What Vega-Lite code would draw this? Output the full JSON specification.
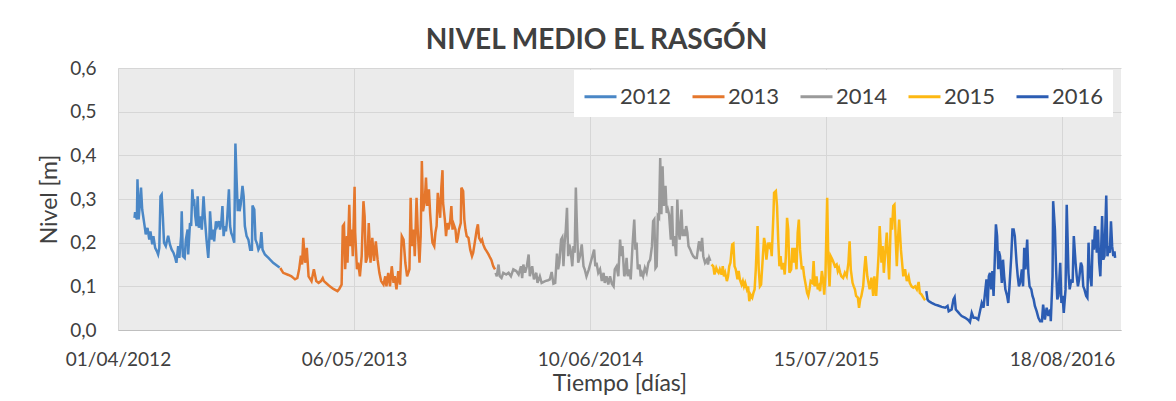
{
"$schema": "https://vega.github.io/schema/vega-lite/v6.json",
"width": 1003,
"height": 262,
"autosize": {"type": "none"},
"padding": {"left": 118, "top": 68, "right": 55, "bottom": 71},
"background": "white",
"config": {
  "font": "Lato",
  "view": {"fill": "#ebebeb", "stroke": null},
  "axis": {"labelColor": "#404040", "titleColor": "#404040", "titleFontWeight": "normal"}
},
"title": {"text": "NIVEL MEDIO EL RASGÓN", "fontSize": 28, "fontWeight": "bold", "color": "#404040", "anchor": "middle", "dx": -23, "offset": 4},
"data": {"values": [
{"d":"2012-04-29","v":0.257},{"d":"2012-04-30","v":0.270},{"d":"2012-05-03","v":0.253},{"d":"2012-05-04","v":0.345},{"d":"2012-05-06","v":0.253},{"d":"2012-05-10","v":0.326},{"d":"2012-05-12","v":0.276},{"d":"2012-05-17","v":0.230},{"d":"2012-05-18","v":0.219},{"d":"2012-05-21","v":0.234},{"d":"2012-05-24","v":0.207},{"d":"2012-05-26","v":0.226},{"d":"2012-05-29","v":0.196},{"d":"2012-05-31","v":0.215},{"d":"2012-06-03","v":0.188},{"d":"2012-06-06","v":0.180},{"d":"2012-06-08","v":0.173},{"d":"2012-06-10","v":0.188},{"d":"2012-06-12","v":0.306},{"d":"2012-06-14","v":0.310},{"d":"2012-06-16","v":0.260},{"d":"2012-06-18","v":0.200},{"d":"2012-06-21","v":0.192},{"d":"2012-06-25","v":0.216},{"d":"2012-06-28","v":0.196},{"d":"2012-07-01","v":0.184},{"d":"2012-07-04","v":0.177},{"d":"2012-07-07","v":0.165},{"d":"2012-07-09","v":0.154},{"d":"2012-07-12","v":0.192},{"d":"2012-07-14","v":0.165},{"d":"2012-07-17","v":0.215},{"d":"2012-07-18","v":0.272},{"d":"2012-07-20","v":0.169},{"d":"2012-07-23","v":0.165},{"d":"2012-07-25","v":0.207},{"d":"2012-07-28","v":0.230},{"d":"2012-07-29","v":0.173},{"d":"2012-08-01","v":0.245},{"d":"2012-08-03","v":0.238},{"d":"2012-08-05","v":0.322},{"d":"2012-08-07","v":0.284},{"d":"2012-08-08","v":0.300},{"d":"2012-08-10","v":0.260},{"d":"2012-08-12","v":0.238},{"d":"2012-08-14","v":0.306},{"d":"2012-08-16","v":0.234},{"d":"2012-08-18","v":0.260},{"d":"2012-08-21","v":0.230},{"d":"2012-08-24","v":0.306},{"d":"2012-08-26","v":0.260},{"d":"2012-08-29","v":0.207},{"d":"2012-09-01","v":0.165},{"d":"2012-09-03","v":0.215},{"d":"2012-09-04","v":0.272},{"d":"2012-09-07","v":0.207},{"d":"2012-09-10","v":0.230},{"d":"2012-09-11","v":0.203},{"d":"2012-09-14","v":0.249},{"d":"2012-09-16","v":0.238},{"d":"2012-09-19","v":0.249},{"d":"2012-09-21","v":0.230},{"d":"2012-09-23","v":0.245},{"d":"2012-09-25","v":0.284},{"d":"2012-09-27","v":0.215},{"d":"2012-09-29","v":0.238},{"d":"2012-10-01","v":0.226},{"d":"2012-10-03","v":0.253},{"d":"2012-10-06","v":0.322},{"d":"2012-10-08","v":0.238},{"d":"2012-10-10","v":0.222},{"d":"2012-10-12","v":0.215},{"d":"2012-10-15","v":0.200},{"d":"2012-10-17","v":0.427},{"d":"2012-10-19","v":0.345},{"d":"2012-10-21","v":0.272},{"d":"2012-10-23","v":0.300},{"d":"2012-10-24","v":0.272},{"d":"2012-10-26","v":0.288},{"d":"2012-10-29","v":0.330},{"d":"2012-10-31","v":0.306},{"d":"2012-11-02","v":0.238},{"d":"2012-11-05","v":0.215},{"d":"2012-11-08","v":0.207},{"d":"2012-11-11","v":0.184},{"d":"2012-11-14","v":0.184},{"d":"2012-11-15","v":0.285},{"d":"2012-11-18","v":0.276},{"d":"2012-11-20","v":0.207},{"d":"2012-11-23","v":0.196},{"d":"2012-11-25","v":0.184},{"d":"2012-11-28","v":0.192},{"d":"2012-11-30","v":0.224},{"d":"2012-12-02","v":0.184},{"d":"2012-12-06","v":0.173},{"d":"2012-12-12","v":0.165},{"d":"2012-12-20","v":0.154},{"d":"2012-12-29","v":0.145},{"d":"2012-12-31","v":0.143},
{"d":"2013-01-01","v":0.142},{"d":"2013-01-06","v":0.131},{"d":"2013-01-15","v":0.126},{"d":"2013-01-20","v":0.123},{"d":"2013-01-26","v":0.116},{"d":"2013-01-30","v":0.119},{"d":"2013-02-02","v":0.139},{"d":"2013-02-05","v":0.170},{"d":"2013-02-07","v":0.150},{"d":"2013-02-09","v":0.211},{"d":"2013-02-12","v":0.154},{"d":"2013-02-15","v":0.188},{"d":"2013-02-18","v":0.123},{"d":"2013-02-23","v":0.112},{"d":"2013-02-27","v":0.139},{"d":"2013-03-03","v":0.112},{"d":"2013-03-07","v":0.108},{"d":"2013-03-11","v":0.112},{"d":"2013-03-14","v":0.119},{"d":"2013-03-16","v":0.112},{"d":"2013-03-21","v":0.106},{"d":"2013-03-26","v":0.100},{"d":"2013-04-01","v":0.094},{"d":"2013-04-08","v":0.089},{"d":"2013-04-11","v":0.094},{"d":"2013-04-15","v":0.104},{"d":"2013-04-17","v":0.238},{"d":"2013-04-19","v":0.242},{"d":"2013-04-21","v":0.139},{"d":"2013-04-24","v":0.215},{"d":"2013-04-25","v":0.154},{"d":"2013-04-28","v":0.287},{"d":"2013-04-30","v":0.192},{"d":"2013-05-02","v":0.230},{"d":"2013-05-04","v":0.169},{"d":"2013-05-07","v":0.328},{"d":"2013-05-08","v":0.223},{"d":"2013-05-11","v":0.139},{"d":"2013-05-13","v":0.154},{"d":"2013-05-16","v":0.123},{"d":"2013-05-19","v":0.169},{"d":"2013-05-22","v":0.295},{"d":"2013-05-24","v":0.261},{"d":"2013-05-26","v":0.154},{"d":"2013-05-29","v":0.169},{"d":"2013-05-31","v":0.245},{"d":"2013-06-03","v":0.154},{"d":"2013-06-06","v":0.211},{"d":"2013-06-09","v":0.158},{"d":"2013-06-12","v":0.203},{"d":"2013-06-15","v":0.161},{"d":"2013-06-18","v":0.131},{"d":"2013-06-21","v":0.112},{"d":"2013-06-25","v":0.104},{"d":"2013-06-28","v":0.123},{"d":"2013-06-30","v":0.100},{"d":"2013-07-03","v":0.131},{"d":"2013-07-06","v":0.100},{"d":"2013-07-09","v":0.146},{"d":"2013-07-12","v":0.108},{"d":"2013-07-14","v":0.123},{"d":"2013-07-17","v":0.093},{"d":"2013-07-20","v":0.135},{"d":"2013-07-23","v":0.104},{"d":"2013-07-26","v":0.215},{"d":"2013-07-29","v":0.207},{"d":"2013-08-01","v":0.154},{"d":"2013-08-04","v":0.123},{"d":"2013-08-08","v":0.139},{"d":"2013-08-10","v":0.303},{"d":"2013-08-12","v":0.192},{"d":"2013-08-15","v":0.230},{"d":"2013-08-17","v":0.169},{"d":"2013-08-20","v":0.303},{"d":"2013-08-22","v":0.230},{"d":"2013-08-25","v":0.154},{"d":"2013-08-27","v":0.215},{"d":"2013-08-29","v":0.387},{"d":"2013-08-31","v":0.272},{"d":"2013-09-03","v":0.295},{"d":"2013-09-05","v":0.349},{"d":"2013-09-07","v":0.284},{"d":"2013-09-10","v":0.322},{"d":"2013-09-12","v":0.268},{"d":"2013-09-14","v":0.230},{"d":"2013-09-16","v":0.200},{"d":"2013-09-19","v":0.192},{"d":"2013-09-21","v":0.223},{"d":"2013-09-23","v":0.238},{"d":"2013-09-25","v":0.314},{"d":"2013-09-27","v":0.287},{"d":"2013-09-29","v":0.257},{"d":"2013-10-01","v":0.326},{"d":"2013-10-03","v":0.366},{"d":"2013-10-04","v":0.291},{"d":"2013-10-07","v":0.253},{"d":"2013-10-09","v":0.215},{"d":"2013-10-11","v":0.245},{"d":"2013-10-13","v":0.230},{"d":"2013-10-16","v":0.249},{"d":"2013-10-18","v":0.284},{"d":"2013-10-20","v":0.230},{"d":"2013-10-22","v":0.242},{"d":"2013-10-25","v":0.230},{"d":"2013-10-27","v":0.200},{"d":"2013-10-29","v":0.211},{"d":"2013-10-31","v":0.230},{"d":"2013-11-03","v":0.245},{"d":"2013-11-04","v":0.326},{"d":"2013-11-07","v":0.318},{"d":"2013-11-09","v":0.253},{"d":"2013-11-11","v":0.230},{"d":"2013-11-13","v":0.215},{"d":"2013-11-16","v":0.211},{"d":"2013-11-19","v":0.184},{"d":"2013-11-22","v":0.169},{"d":"2013-11-24","v":0.177},{"d":"2013-11-27","v":0.203},{"d":"2013-11-30","v":0.230},{"d":"2013-12-02","v":0.242},{"d":"2013-12-04","v":0.211},{"d":"2013-12-07","v":0.203},{"d":"2013-12-09","v":0.207},{"d":"2013-12-11","v":0.196},{"d":"2013-12-14","v":0.186},{"d":"2013-12-17","v":0.180},{"d":"2013-12-20","v":0.173},{"d":"2013-12-23","v":0.165},{"d":"2013-12-25","v":0.160},{"d":"2013-12-28","v":0.146},{"d":"2013-12-31","v":0.139},
{"d":"2014-01-01","v":0.131},{"d":"2014-01-03","v":0.123},{"d":"2014-01-06","v":0.150},{"d":"2014-01-08","v":0.123},{"d":"2014-01-11","v":0.119},{"d":"2014-01-14","v":0.131},{"d":"2014-01-19","v":0.127},{"d":"2014-01-23","v":0.131},{"d":"2014-01-27","v":0.123},{"d":"2014-01-31","v":0.139},{"d":"2014-02-05","v":0.135},{"d":"2014-02-09","v":0.127},{"d":"2014-02-13","v":0.146},{"d":"2014-02-15","v":0.119},{"d":"2014-02-17","v":0.150},{"d":"2014-02-20","v":0.131},{"d":"2014-02-23","v":0.146},{"d":"2014-02-26","v":0.173},{"d":"2014-02-28","v":0.123},{"d":"2014-03-04","v":0.146},{"d":"2014-03-07","v":0.116},{"d":"2014-03-11","v":0.131},{"d":"2014-03-13","v":0.108},{"d":"2014-03-17","v":0.123},{"d":"2014-03-20","v":0.108},{"d":"2014-03-26","v":0.112},{"d":"2014-03-31","v":0.114},{"d":"2014-04-03","v":0.116},{"d":"2014-04-06","v":0.133},{"d":"2014-04-09","v":0.106},{"d":"2014-04-12","v":0.108},{"d":"2014-04-15","v":0.175},{"d":"2014-04-17","v":0.139},{"d":"2014-04-19","v":0.154},{"d":"2014-04-22","v":0.207},{"d":"2014-04-24","v":0.212},{"d":"2014-04-26","v":0.146},{"d":"2014-04-28","v":0.200},{"d":"2014-04-30","v":0.230},{"d":"2014-05-02","v":0.280},{"d":"2014-05-04","v":0.169},{"d":"2014-05-06","v":0.196},{"d":"2014-05-08","v":0.184},{"d":"2014-05-11","v":0.146},{"d":"2014-05-13","v":0.192},{"d":"2014-05-15","v":0.177},{"d":"2014-05-17","v":0.326},{"d":"2014-05-19","v":0.230},{"d":"2014-05-21","v":0.154},{"d":"2014-05-24","v":0.169},{"d":"2014-05-27","v":0.196},{"d":"2014-05-30","v":0.146},{"d":"2014-06-01","v":0.139},{"d":"2014-06-04","v":0.123},{"d":"2014-06-08","v":0.139},{"d":"2014-06-11","v":0.154},{"d":"2014-06-14","v":0.169},{"d":"2014-06-17","v":0.184},{"d":"2014-06-19","v":0.146},{"d":"2014-06-21","v":0.154},{"d":"2014-06-24","v":0.131},{"d":"2014-06-27","v":0.139},{"d":"2014-06-30","v":0.112},{"d":"2014-07-03","v":0.131},{"d":"2014-07-05","v":0.108},{"d":"2014-07-08","v":0.123},{"d":"2014-07-11","v":0.104},{"d":"2014-07-14","v":0.123},{"d":"2014-07-17","v":0.106},{"d":"2014-07-20","v":0.100},{"d":"2014-07-22","v":0.139},{"d":"2014-07-25","v":0.146},{"d":"2014-07-28","v":0.123},{"d":"2014-07-31","v":0.207},{"d":"2014-08-02","v":0.169},{"d":"2014-08-04","v":0.192},{"d":"2014-08-07","v":0.123},{"d":"2014-08-09","v":0.131},{"d":"2014-08-11","v":0.165},{"d":"2014-08-13","v":0.123},{"d":"2014-08-16","v":0.139},{"d":"2014-08-18","v":0.116},{"d":"2014-08-21","v":0.192},{"d":"2014-08-24","v":0.253},{"d":"2014-08-26","v":0.184},{"d":"2014-08-28","v":0.200},{"d":"2014-08-30","v":0.139},{"d":"2014-09-02","v":0.150},{"d":"2014-09-04","v":0.123},{"d":"2014-09-06","v":0.131},{"d":"2014-09-08","v":0.123},{"d":"2014-09-11","v":0.142},{"d":"2014-09-14","v":0.131},{"d":"2014-09-17","v":0.154},{"d":"2014-09-20","v":0.161},{"d":"2014-09-23","v":0.192},{"d":"2014-09-25","v":0.249},{"d":"2014-09-27","v":0.253},{"d":"2014-09-29","v":0.142},{"d":"2014-10-01","v":0.146},{"d":"2014-10-03","v":0.261},{"d":"2014-10-05","v":0.257},{"d":"2014-10-07","v":0.394},{"d":"2014-10-09","v":0.265},{"d":"2014-10-11","v":0.375},{"d":"2014-10-13","v":0.284},{"d":"2014-10-16","v":0.330},{"d":"2014-10-18","v":0.268},{"d":"2014-10-20","v":0.276},{"d":"2014-10-22","v":0.265},{"d":"2014-10-25","v":0.207},{"d":"2014-10-27","v":0.284},{"d":"2014-10-29","v":0.192},{"d":"2014-10-31","v":0.215},{"d":"2014-11-03","v":0.169},{"d":"2014-11-05","v":0.299},{"d":"2014-11-07","v":0.230},{"d":"2014-11-09","v":0.207},{"d":"2014-11-12","v":0.276},{"d":"2014-11-14","v":0.215},{"d":"2014-11-16","v":0.230},{"d":"2014-11-18","v":0.215},{"d":"2014-11-20","v":0.238},{"d":"2014-11-22","v":0.223},{"d":"2014-11-24","v":0.192},{"d":"2014-11-27","v":0.184},{"d":"2014-11-29","v":0.177},{"d":"2014-12-02","v":0.169},{"d":"2014-12-05","v":0.165},{"d":"2014-12-08","v":0.165},{"d":"2014-12-11","v":0.196},{"d":"2014-12-12","v":0.203},{"d":"2014-12-15","v":0.180},{"d":"2014-12-17","v":0.211},{"d":"2014-12-19","v":0.169},{"d":"2014-12-22","v":0.154},{"d":"2014-12-25","v":0.161},{"d":"2014-12-27","v":0.150},{"d":"2014-12-29","v":0.165},{"d":"2014-12-31","v":0.158},
{"d":"2015-01-02","v":0.150},{"d":"2015-01-05","v":0.146},{"d":"2015-01-07","v":0.127},{"d":"2015-01-10","v":0.142},{"d":"2015-01-12","v":0.135},{"d":"2015-01-14","v":0.131},{"d":"2015-01-16","v":0.139},{"d":"2015-01-19","v":0.127},{"d":"2015-01-21","v":0.146},{"d":"2015-01-23","v":0.123},{"d":"2015-01-25","v":0.131},{"d":"2015-01-28","v":0.112},{"d":"2015-01-30","v":0.123},{"d":"2015-02-01","v":0.146},{"d":"2015-02-03","v":0.154},{"d":"2015-02-06","v":0.196},{"d":"2015-02-08","v":0.198},{"d":"2015-02-10","v":0.146},{"d":"2015-02-12","v":0.139},{"d":"2015-02-15","v":0.116},{"d":"2015-02-17","v":0.135},{"d":"2015-02-19","v":0.116},{"d":"2015-02-22","v":0.104},{"d":"2015-02-24","v":0.112},{"d":"2015-02-26","v":0.100},{"d":"2015-02-28","v":0.108},{"d":"2015-03-03","v":0.093},{"d":"2015-03-05","v":0.100},{"d":"2015-03-07","v":0.066},{"d":"2015-03-09","v":0.081},{"d":"2015-03-12","v":0.074},{"d":"2015-03-14","v":0.085},{"d":"2015-03-16","v":0.093},{"d":"2015-03-18","v":0.139},{"d":"2015-03-21","v":0.238},{"d":"2015-03-23","v":0.139},{"d":"2015-03-25","v":0.100},{"d":"2015-03-27","v":0.104},{"d":"2015-03-30","v":0.169},{"d":"2015-04-01","v":0.211},{"d":"2015-04-03","v":0.196},{"d":"2015-04-05","v":0.161},{"d":"2015-04-08","v":0.200},{"d":"2015-04-10","v":0.192},{"d":"2015-04-12","v":0.200},{"d":"2015-04-14","v":0.169},{"d":"2015-04-17","v":0.268},{"d":"2015-04-18","v":0.314},{"d":"2015-04-21","v":0.318},{"d":"2015-04-23","v":0.284},{"d":"2015-04-25","v":0.207},{"d":"2015-04-27","v":0.146},{"d":"2015-04-29","v":0.169},{"d":"2015-05-01","v":0.139},{"d":"2015-05-04","v":0.154},{"d":"2015-05-06","v":0.127},{"d":"2015-05-08","v":0.169},{"d":"2015-05-10","v":0.257},{"d":"2015-05-12","v":0.230},{"d":"2015-05-14","v":0.131},{"d":"2015-05-17","v":0.139},{"d":"2015-05-19","v":0.188},{"d":"2015-05-21","v":0.154},{"d":"2015-05-23","v":0.188},{"d":"2015-05-26","v":0.139},{"d":"2015-05-28","v":0.223},{"d":"2015-05-30","v":0.253},{"d":"2015-06-01","v":0.184},{"d":"2015-06-04","v":0.139},{"d":"2015-06-06","v":0.146},{"d":"2015-06-08","v":0.123},{"d":"2015-06-10","v":0.108},{"d":"2015-06-13","v":0.085},{"d":"2015-06-15","v":0.078},{"d":"2015-06-17","v":0.093},{"d":"2015-06-19","v":0.112},{"d":"2015-06-22","v":0.108},{"d":"2015-06-24","v":0.158},{"d":"2015-06-26","v":0.100},{"d":"2015-06-29","v":0.123},{"d":"2015-07-01","v":0.093},{"d":"2015-07-03","v":0.100},{"d":"2015-07-05","v":0.089},{"d":"2015-07-08","v":0.135},{"d":"2015-07-10","v":0.116},{"d":"2015-07-12","v":0.081},{"d":"2015-07-14","v":0.123},{"d":"2015-07-17","v":0.303},{"d":"2015-07-19","v":0.154},{"d":"2015-07-21","v":0.100},{"d":"2015-07-23","v":0.169},{"d":"2015-07-26","v":0.161},{"d":"2015-07-28","v":0.154},{"d":"2015-07-30","v":0.146},{"d":"2015-08-02","v":0.150},{"d":"2015-08-04","v":0.135},{"d":"2015-08-06","v":0.142},{"d":"2015-08-08","v":0.131},{"d":"2015-08-10","v":0.123},{"d":"2015-08-13","v":0.119},{"d":"2015-08-16","v":0.131},{"d":"2015-08-19","v":0.123},{"d":"2015-08-22","v":0.154},{"d":"2015-08-24","v":0.203},{"d":"2015-08-26","v":0.139},{"d":"2015-08-29","v":0.108},{"d":"2015-08-31","v":0.100},{"d":"2015-09-02","v":0.093},{"d":"2015-09-04","v":0.078},{"d":"2015-09-07","v":0.074},{"d":"2015-09-09","v":0.051},{"d":"2015-09-11","v":0.070},{"d":"2015-09-13","v":0.078},{"d":"2015-09-16","v":0.100},{"d":"2015-09-18","v":0.139},{"d":"2015-09-20","v":0.169},{"d":"2015-09-23","v":0.123},{"d":"2015-09-25","v":0.108},{"d":"2015-09-27","v":0.093},{"d":"2015-09-30","v":0.120},{"d":"2015-10-03","v":0.078},{"d":"2015-10-05","v":0.123},{"d":"2015-10-08","v":0.078},{"d":"2015-10-10","v":0.123},{"d":"2015-10-12","v":0.169},{"d":"2015-10-14","v":0.238},{"d":"2015-10-17","v":0.154},{"d":"2015-10-19","v":0.192},{"d":"2015-10-21","v":0.131},{"d":"2015-10-23","v":0.169},{"d":"2015-10-26","v":0.223},{"d":"2015-10-28","v":0.169},{"d":"2015-10-30","v":0.116},{"d":"2015-11-02","v":0.257},{"d":"2015-11-04","v":0.230},{"d":"2015-11-06","v":0.284},{"d":"2015-11-08","v":0.287},{"d":"2015-11-10","v":0.215},{"d":"2015-11-12","v":0.146},{"d":"2015-11-14","v":0.207},{"d":"2015-11-16","v":0.253},{"d":"2015-11-19","v":0.184},{"d":"2015-11-21","v":0.154},{"d":"2015-11-23","v":0.123},{"d":"2015-11-26","v":0.139},{"d":"2015-11-29","v":0.112},{"d":"2015-12-02","v":0.123},{"d":"2015-12-04","v":0.108},{"d":"2015-12-07","v":0.100},{"d":"2015-12-10","v":0.097},{"d":"2015-12-13","v":0.100},{"d":"2015-12-16","v":0.093},{"d":"2015-12-19","v":0.110},{"d":"2015-12-21","v":0.085},{"d":"2015-12-24","v":0.081},{"d":"2015-12-27","v":0.074},{"d":"2015-12-30","v":0.068},
{"d":"2016-01-01","v":0.089},{"d":"2016-01-03","v":0.070},{"d":"2016-01-05","v":0.066},{"d":"2016-01-10","v":0.062},{"d":"2016-01-16","v":0.058},{"d":"2016-01-21","v":0.056},{"d":"2016-01-27","v":0.053},{"d":"2016-02-02","v":0.051},{"d":"2016-02-06","v":0.055},{"d":"2016-02-08","v":0.043},{"d":"2016-02-13","v":0.047},{"d":"2016-02-16","v":0.070},{"d":"2016-02-18","v":0.075},{"d":"2016-02-20","v":0.047},{"d":"2016-02-24","v":0.041},{"d":"2016-02-27","v":0.036},{"d":"2016-03-01","v":0.032},{"d":"2016-03-07","v":0.028},{"d":"2016-03-12","v":0.023},{"d":"2016-03-15","v":0.018},{"d":"2016-03-18","v":0.039},{"d":"2016-03-21","v":0.028},{"d":"2016-03-25","v":0.028},{"d":"2016-03-29","v":0.024},{"d":"2016-04-01","v":0.043},{"d":"2016-04-04","v":0.062},{"d":"2016-04-07","v":0.051},{"d":"2016-04-09","v":0.078},{"d":"2016-04-12","v":0.116},{"d":"2016-04-14","v":0.055},{"d":"2016-04-16","v":0.123},{"d":"2016-04-18","v":0.131},{"d":"2016-04-20","v":0.093},{"d":"2016-04-22","v":0.135},{"d":"2016-04-24","v":0.078},{"d":"2016-04-26","v":0.158},{"d":"2016-04-28","v":0.242},{"d":"2016-04-30","v":0.215},{"d":"2016-05-02","v":0.139},{"d":"2016-05-03","v":0.180},{"d":"2016-05-05","v":0.169},{"d":"2016-05-08","v":0.108},{"d":"2016-05-10","v":0.161},{"d":"2016-05-12","v":0.123},{"d":"2016-05-14","v":0.093},{"d":"2016-05-17","v":0.078},{"d":"2016-05-19","v":0.062},{"d":"2016-05-21","v":0.100},{"d":"2016-05-24","v":0.169},{"d":"2016-05-26","v":0.230},{"d":"2016-05-28","v":0.230},{"d":"2016-05-30","v":0.215},{"d":"2016-06-02","v":0.154},{"d":"2016-06-04","v":0.123},{"d":"2016-06-06","v":0.100},{"d":"2016-06-08","v":0.108},{"d":"2016-06-11","v":0.139},{"d":"2016-06-13","v":0.100},{"d":"2016-06-15","v":0.188},{"d":"2016-06-17","v":0.139},{"d":"2016-06-20","v":0.207},{"d":"2016-06-22","v":0.131},{"d":"2016-06-24","v":0.100},{"d":"2016-06-27","v":0.093},{"d":"2016-06-29","v":0.078},{"d":"2016-07-01","v":0.070},{"d":"2016-07-03","v":0.055},{"d":"2016-07-06","v":0.043},{"d":"2016-07-09","v":0.028},{"d":"2016-07-12","v":0.020},{"d":"2016-07-15","v":0.020},{"d":"2016-07-17","v":0.058},{"d":"2016-07-20","v":0.024},{"d":"2016-07-23","v":0.051},{"d":"2016-07-26","v":0.032},{"d":"2016-07-29","v":0.047},{"d":"2016-07-30","v":0.020},{"d":"2016-08-02","v":0.123},{"d":"2016-08-03","v":0.295},{"d":"2016-08-06","v":0.230},{"d":"2016-08-08","v":0.139},{"d":"2016-08-10","v":0.070},{"d":"2016-08-12","v":0.078},{"d":"2016-08-15","v":0.154},{"d":"2016-08-17","v":0.062},{"d":"2016-08-19","v":0.078},{"d":"2016-08-21","v":0.039},{"d":"2016-08-24","v":0.093},{"d":"2016-08-26","v":0.287},{"d":"2016-08-29","v":0.130},{"d":"2016-08-31","v":0.093},{"d":"2016-09-03","v":0.116},{"d":"2016-09-05","v":0.108},{"d":"2016-09-07","v":0.215},{"d":"2016-09-10","v":0.154},{"d":"2016-09-12","v":0.123},{"d":"2016-09-14","v":0.100},{"d":"2016-09-16","v":0.116},{"d":"2016-09-19","v":0.154},{"d":"2016-09-21","v":0.146},{"d":"2016-09-23","v":0.100},{"d":"2016-09-25","v":0.093},{"d":"2016-09-28","v":0.078},{"d":"2016-09-30","v":0.074},{"d":"2016-10-02","v":0.200},{"d":"2016-10-04","v":0.131},{"d":"2016-10-07","v":0.100},{"d":"2016-10-09","v":0.207},{"d":"2016-10-11","v":0.184},{"d":"2016-10-13","v":0.238},{"d":"2016-10-16","v":0.177},{"d":"2016-10-18","v":0.230},{"d":"2016-10-20","v":0.154},{"d":"2016-10-22","v":0.123},{"d":"2016-10-25","v":0.261},{"d":"2016-10-27","v":0.161},{"d":"2016-10-29","v":0.169},{"d":"2016-11-01","v":0.308},{"d":"2016-11-03","v":0.169},{"d":"2016-11-05","v":0.184},{"d":"2016-11-07","v":0.177},{"d":"2016-11-09","v":0.249},{"d":"2016-11-11","v":0.192},{"d":"2016-11-13","v":0.169},{"d":"2016-11-15","v":0.180},{"d":"2016-11-16","v":0.165}
]},
"mark": {"type": "line", "strokeWidth": 2.5, "interpolate": "linear"},
"encoding": {
  "x": {"field": "d", "type": "temporal",
    "scale": {"type": "utc", "domain": [{"year": 2012, "month": 4, "date": 1, "utc": true}, {"year": 2016, "month": 11, "date": 26, "utc": true}]},
    "axis": {"values": [{"year": 2012, "month": 4, "date": 1, "utc": true}, {"year": 2013, "month": 5, "date": 6, "utc": true}, {"year": 2014, "month": 6, "date": 10, "utc": true}, {"year": 2015, "month": 7, "date": 15, "utc": true}, {"year": 2016, "month": 8, "date": 18, "utc": true}],
      "labelExpr": "utcFormat(datum.value, '%d/%m/%Y')",
      "title": "Tiempo [días]", "titleFontSize": 23, "titlePadding": 3,
      "labelFontSize": 19, "labelPadding": 20, "ticks": false, "tickSize": 0,
      "grid": true, "gridColor": "#d6d6d6", "gridWidth": 1,
      "domain": true, "domainColor": "#bfbfbf", "domainWidth": 1,
      "labelFlush": false, "labelOverlap": false, "labelBound": false}},
  "y": {"field": "v", "type": "quantitative",
    "scale": {"domain": [0, 0.6], "nice": false, "zero": true},
    "axis": {"values": [0, 0.1, 0.2, 0.3, 0.4, 0.5, 0.6],
      "labelExpr": "replace(format(datum.value, '.1f'), '.', ',')",
      "title": "Nivel [m]", "titleFontSize": 23, "titlePadding": 8,
      "labelFontSize": 19, "labelPadding": 22, "ticks": false, "tickSize": 0,
      "grid": true, "gridColor": "#d6d6d6", "gridWidth": 1, "domain": false}},
  "color": {"field": "d", "timeUnit": "utcyear", "type": "ordinal",
    "scale": {"range": ["#4a87c6", "#e5772c", "#9a9a9a", "#fdb812", "#2c5db3"]},
    "legend": {"title": null, "orient": "none", "legendX": 456, "legendY": 2, "direction": "horizontal",
      "fillColor": "white", "padding": 9, "symbolType": "stroke", "symbolSize": 1024, "symbolStrokeWidth": 3,
      "labelFontSize": 22, "labelColor": "#404040", "labelOffset": 2, "columnPadding": 14, "format": "%Y"}}
}
}
